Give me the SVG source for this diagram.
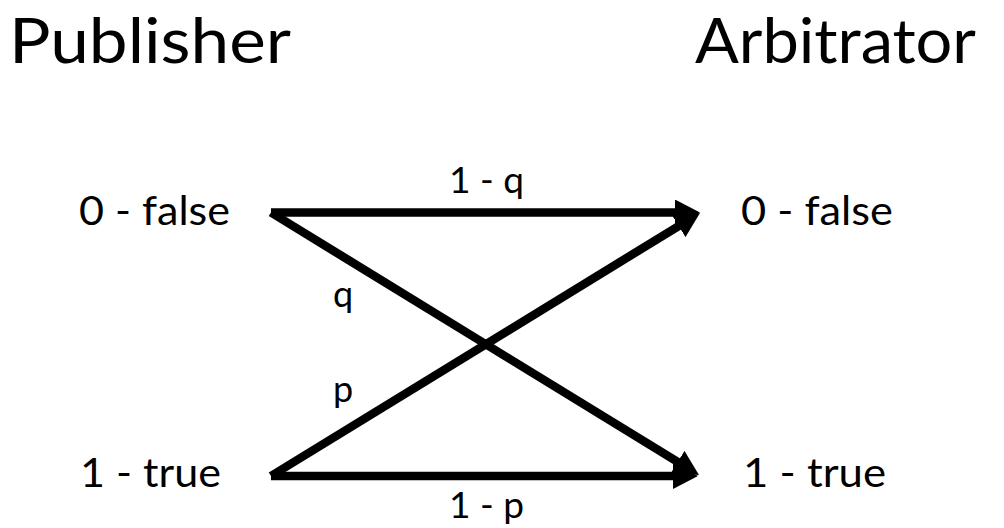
<svg xmlns="http://www.w3.org/2000/svg" width="1004" height="528" viewBox="0 0 1004 528">
<style>
text{font-family:Lato,"Liberation Sans",sans-serif;fill:#000}
.title{font-size:62px}
.state{font-size:40px}
.prob{font-size:36px}
.edge{stroke:#000;stroke-width:8.5;fill:none;marker-end:url(#ah)}
</style>
<defs>
<marker id="ah" markerUnits="userSpaceOnUse" markerWidth="26" markerHeight="26" refX="10" refY="13" orient="auto">
<path d="M0,0 L25,13 L0,26 z" fill="#000"/>
</marker>
</defs>
<rect width="1004" height="528" fill="#fff"/>
<g id="publisher-title"><text class="title" x="9" y="63" textLength="282" lengthAdjust="spacingAndGlyphs">Publisher</text></g>
<g id="arbitrator-title"><text class="title" x="695" y="63" textLength="281" lengthAdjust="spacingAndGlyphs">Arbitrator</text></g>
<g id="pub-false"><text class="state" x="79" y="225" textLength="151" lengthAdjust="spacingAndGlyphs">0 - false</text></g>
<g id="pub-true"><text class="state" x="80" y="487" textLength="141" lengthAdjust="spacingAndGlyphs">1 - true</text></g>
<g id="arb-false"><text class="state" x="741" y="225" textLength="152" lengthAdjust="spacingAndGlyphs">0 - false</text></g>
<g id="arb-true"><text class="state" x="743" y="487" textLength="143" lengthAdjust="spacingAndGlyphs">1 - true</text></g>
<g id="connectors">
<line class="edge" x1="271" y1="212.5" x2="685" y2="212.5"/>
<line class="edge" x1="271" y1="476" x2="683" y2="476"/>
<line class="edge" x1="271" y1="212.5" x2="686.2" y2="467.2"/>
<line class="edge" x1="271" y1="476" x2="687.2" y2="220.8"/>
<text class="prob" x="449" y="193" textLength="75" lengthAdjust="spacingAndGlyphs">1 - q</text>
<text class="prob" x="449" y="518" textLength="75" lengthAdjust="spacingAndGlyphs">1 - p</text>
<text class="prob" x="333" y="307">q</text>
<text class="prob" x="333" y="402">p</text>
</g>
</svg>
